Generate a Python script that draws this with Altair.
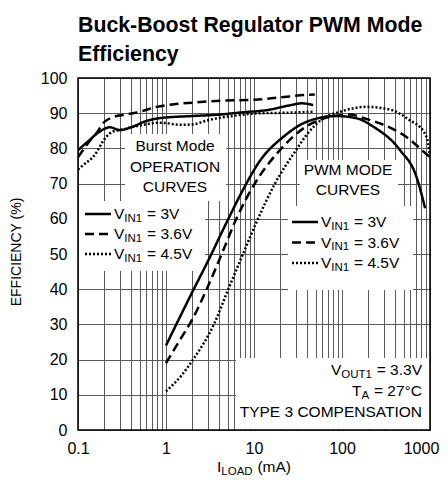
import altair as alt
import pandas as pd

# ---------------- data ----------------
VIN_LABELS = ["3V", "3.6V", "4.5V"]

burst_3v_x = [0.1, 0.13, 0.17, 0.23, 0.3, 0.4, 0.6, 0.85, 2, 4, 7, 15, 25, 35, 47]
burst_3v_y = [79.5, 82, 84.5, 86, 85.2, 86, 87.8, 88.6, 89.2, 89.6, 90.2, 91, 92.2, 92.8, 92.3]

burst_36_x = [0.1, 0.13, 0.17, 0.19, 0.23, 0.32, 0.47, 0.78, 1.3, 2, 4.4, 10, 20, 40, 49]
burst_36_y = [77.5, 81.5, 85, 87, 88.5, 89.5, 90.2, 91.8, 92.6, 93, 93.6, 93.8, 94.5, 95.2, 95.3]

burst_45_x = [0.1, 0.115, 0.15, 0.21, 0.25, 0.3, 0.5, 0.85, 1.5, 2, 3, 6, 12, 20, 47]
burst_45_y = [74, 75.3, 77.7, 83.3, 84.8, 85.2, 86.5, 87.3, 86.7, 86.8, 88, 89.3, 90, 90.1, 90.4]

pwm_3v_x = [1, 2, 3, 5, 7.6, 11.7, 21.6, 40, 87, 150, 226, 457, 700, 880]
pwm_3v_y = [24, 39.3, 48, 59.5, 68.5, 76.5, 83.3, 87.6, 89.2, 88.5, 86.2, 79.5, 72, 63]

pwm_36_x = [1, 1.5, 2, 2.9, 4.3, 6.3, 10.2, 19.7, 39.6, 87, 123, 182, 270, 400, 564, 810, 1000]
pwm_36_y = [19, 26.3, 31.5, 40, 50, 60, 70, 79.5, 86.3, 89.3, 89.6, 88.5, 87.1, 85.2, 82.9, 79.5, 77.5]

pwm_45_x = [1, 1.5, 2.03, 3.5, 5.1, 7.5, 11.1, 17.3, 30, 40, 61, 95, 190, 354, 589, 850, 950, 1000]
pwm_45_y = [11, 15.5, 20, 30, 40, 50, 60, 70, 79.5, 84, 88.5, 90.4, 91.8, 91, 88, 84.7, 81.5, 77.5]

x_ticks = [m * 10 ** e for e in range(-1, 3) for m in range(1, 10)] + [1000]
x_labels = ["0.1", "1", "10", "100", "1000"]
y_ticks = list(range(0, 101, 10))

series = [
    ("burst", "3V", burst_3v_x, burst_3v_y),
    ("burst", "3.6V", burst_36_x, burst_36_y),
    ("burst", "4.5V", burst_45_x, burst_45_y),
    ("pwm", "3V", pwm_3v_x, pwm_3v_y),
    ("pwm", "3.6V", pwm_36_x, pwm_36_y),
    ("pwm", "4.5V", pwm_45_x, pwm_45_y),
]
rows = []
for mode, vin, xs, ys in series:
    for xv, yv in zip(xs, ys):
        rows.append({"curve": mode + " " + vin, "vin": vin, "iload": xv, "eff": yv})
df = pd.DataFrame(rows)

# ---------------- layout helpers ----------------
OX, OY, W, H = 78, 78, 352, 352
FONT = "Liberation Sans, Arial, sans-serif"
GRID = "#5a5a5a"
DASHES = {"3V": [1, 0], "3.6V": [9, 5], "4.5V": [2, 2]}
FS = 15.5      # annotation font size
SUB = 11.5     # subscript font size

one = alt.InlineData(values=[{"k": 1}])

AW = {"V": .667, "I": .278, "N": .722, "1": .556, "O": .778, "U": .722, "T": .611,
      "A": .667, "L": .556, "D": .722, " ": .278, "=": .584, ".": .278, "°": .4,
      "C": .722, "(": .333, ")": .333, "m": .833}


def tw(s, size):
    return sum(AW.get(c, .556) for c in s) * size


def text(x, y, s, size, align="left", weight="normal", baseline="middle", angle=0):
    return alt.Chart(one).mark_text(
        text=s, fontSize=size, font=FONT, fontWeight=weight, align=align,
        baseline=baseline, angle=angle, color="black"
    ).encode(x=alt.value(x - OX), y=alt.value(y - OY))


def subtext(x, y, main, sub, rest, size=FS, subsize=SUB, gap=0.5):
    # leading spaces collapse in SVG, so the space is added as an offset
    x1 = x + tw(main, size)
    x2 = x1 + tw(sub, subsize) + gap + tw(" ", size)
    return [
        text(x, y, main, size),
        text(x1, y + 4.5, sub, subsize),
        text(x2, y, rest, size),
    ]


def subtext_right(xr, y, main, sub, rest, size=FS, subsize=SUB, gap=0.5):
    total = tw(main, size) + tw(sub, subsize) + gap + tw(" " + rest, size)
    return subtext(xr - total, y, main, sub, rest, size, subsize, gap)


def box(x1, x2, y1, y2):
    return alt.Chart(one).mark_rect(fill="white", strokeWidth=0).encode(
        x=alt.value(x1 - OX), x2=alt.value(x2 - OX), y=alt.value(y1 - OY), y2=alt.value(y2 - OY))


def sample(x1, x2, y, vin):
    return alt.Chart(one).mark_rule(color="black", strokeWidth=2.5, strokeDash=DASHES[vin]).encode(
        x=alt.value(x1 - OX), x2=alt.value(x2 - OX), y=alt.value(y - OY))


label_expr = "indexof(" + str(x_labels) + ", format(datum.value, '~g')) >= 0 ? format(datum.value, '~g') : ''"

curves = alt.Chart(df).mark_line(interpolate="monotone", strokeWidth=2.5, color="black", clip=True).encode(
    x=alt.X("iload:Q", scale=alt.Scale(type="log", domain=[0.1, 1000]),
            axis=alt.Axis(values=x_ticks, labelExpr=label_expr, grid=True, ticks=False, domain=False,
                          title=None, labelFont=FONT, labelFontSize=16, labelPadding=10,
                          labelOverlap=False, labelFlush=False, labelBound=False,
                          labelOffset={"condition": {"test": "datum.value >= 999", "value": -9}, "value": 0},
                          gridColor=GRID, gridWidth=1, gridOpacity=1, labelColor="black")),
    y=alt.Y("eff:Q", scale=alt.Scale(domain=[0, 100], nice=False),
            axis=alt.Axis(values=y_ticks, grid=True, ticks=False, domain=False, title=None,
                          labelFont=FONT, labelFontSize=16, labelPadding=11,
                          gridColor=GRID, gridWidth=1, gridOpacity=1, labelColor="black")),
    strokeDash=alt.StrokeDash("vin:N", scale=alt.Scale(domain=VIN_LABELS,
                              range=[DASHES[v] for v in VIN_LABELS]), legend=None),
    detail="curve:N",
)

boxes = [
    box(125, 226, 134, 201),
    box(79, 205, 201, 271),
    box(300, 398, 160, 206),
    box(288, 413, 206, 290),
    box(236, 429, 358, 429),
]

layers = boxes + [curves]

# left legend
for i, v in enumerate(VIN_LABELS):
    yy = 214 + 20 * i
    layers.append(sample(85, 111, yy, v))
    layers += subtext(114, yy, "V", "IN1", "= " + v)
# right legend
for i, v in enumerate(VIN_LABELS):
    yy = 222 + 20.5 * i
    layers.append(sample(292, 318, yy, v))
    layers += subtext(321, yy, "V", "IN1", "= " + v)

# annotations
layers += [
    text(175, 146, "Burst Mode", FS, align="center"),
    text(175, 167, "OPERATION", FS, align="center"),
    text(175, 187, "CURVES", FS, align="center"),
    text(348, 170, "PWM MODE", FS, align="center"),
    text(348, 190, "CURVES", FS, align="center"),
]
layers += subtext_right(422, 370, "V", "OUT1", "= 3.3V")
layers += subtext_right(422, 391, "T", "A", "= 27°C")
layers.append(text(422, 412, "TYPE 3 COMPENSATION", FS, align="right"))

# title
layers.append(text(78, 32, "Buck-Boost Regulator PWM Mode", 21.3, weight="bold", baseline="alphabetic"))
layers.append(text(78, 61, "Efficiency", 21.3, weight="bold", baseline="alphabetic"))

# axis titles
layers.append(text(17, 252, "EFFICIENCY (%)", 14, align="center", angle=270))
xt_total = tw("I", FS) + tw("LOAD", SUB) + 0.5 + tw(" (mA)", FS)
layers += subtext(254 - xt_total / 2, 467, "I", "LOAD", "(mA)")

# frame
layers.append(alt.Chart(one).mark_rect(fillOpacity=0, stroke="black", strokeWidth=1.5).encode(
    x=alt.value(0), x2=alt.value(W), y=alt.value(0), y2=alt.value(H)))

chart = alt.layer(*layers).properties(
    width=W, height=H,
    padding={"left": 70, "top": 70, "right": 10, "bottom": 49},
    autosize=alt.AutoSizeParams(type="none"),
    background="white",
).configure_view(stroke="transparent")

chart.save("out.html", embed_options={"renderer": "svg", "actions": False})
